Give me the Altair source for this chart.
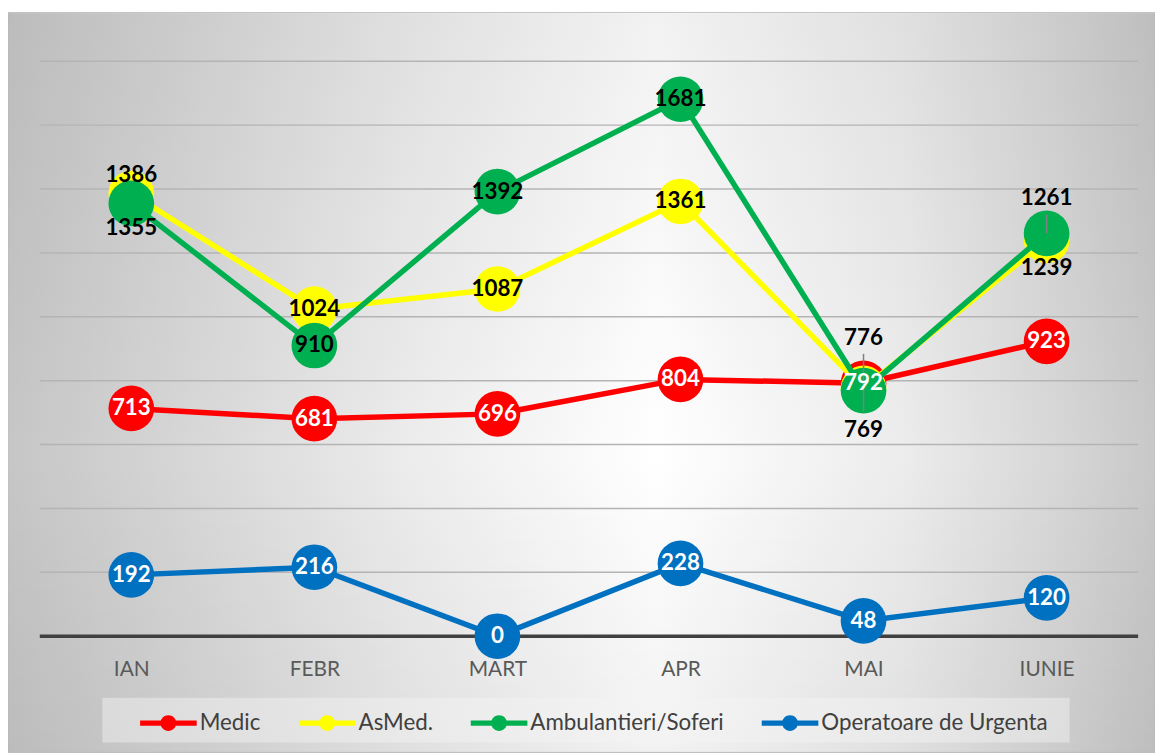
import json
import altair as alt
import pandas as pd

# ---------------- data ----------------
months = ["IAN", "FEBR", "MART", "APR", "MAI", "IUNIE"]
series_names = ["Medic", "AsMed.", "Ambulantieri/Soferi", "Operatoare de Urgenta"]
medic = [713, 681, 696, 804, 792, 923]
asmed = [1386, 1024, 1087, 1361, 776, 1239]
ambulantieri = [1355, 910, 1392, 1681, 769, 1261]
operatoare = [192, 216, 0, 228, 48, 120]
grid_values = [200, 400, 600, 800, 1000, 1200, 1400, 1600, 1800]
baseline_values = [0]

series_colors = ["#FF0000", "#FFFF00", "#00B050", "#0070C0"]
white_label_series = ["Medic", "Operatoare de Urgenta"]

rows = []
for name, vals in zip(series_names, [medic, asmed, ambulantieri, operatoare]):
    for m, v in zip(months, vals):
        rows.append({"month": m, "value": v, "series": name, "key": name + "|" + m})
df = pd.DataFrame(rows)

# label offsets (pixels) for labels placed above / below their marker
label_dy = {
    "AsMed.|IAN": -19,
    "Ambulantieri/Soferi|IAN": 25,
    "AsMed.|MAI": -51,
    "Ambulantieri/Soferi|MAI": 40,
    "Ambulantieri/Soferi|IUNIE": -36,
    "AsMed.|IUNIE": 28,
}

W, H = 1106, 579

x_enc = alt.X(
    "month:N",
    sort=months,
    scale=alt.Scale(type="point", padding=0.5, domain=months),
    axis=alt.Axis(
        title=None, domain=False, ticks=False, grid=False, labelAngle=0,
        labelFont="Lato", labelFontSize=21, labelColor="#595959",
        labelPadding=23, zindex=1,
    ),
)
y_scale = alt.Scale(domain=[0, 1800], nice=False, zero=True)
y_enc = alt.Y("value:Q", scale=y_scale, axis=None)

one = pd.DataFrame({"a": [0]})

h_gradient = alt.LinearGradient(
    gradient="linear", x1=0, y1=0, x2=1, y2=0,
    stops=[
        alt.GradientStop(offset=0.0, color="#c6c6c6"),
        alt.GradientStop(offset=0.15, color="#d6d6d6"),
        alt.GradientStop(offset=0.35, color="#ececec"),
        alt.GradientStop(offset=0.565, color="#ffffff"),
        alt.GradientStop(offset=0.78, color="#ececec"),
        alt.GradientStop(offset=0.92, color="#d6d6d6"),
        alt.GradientStop(offset=1.0, color="#c8c8c8"),
    ],
)
v_gradient = alt.LinearGradient(
    gradient="linear", x1=0, y1=0, x2=0, y2=1,
    stops=[
        alt.GradientStop(offset=0.0, color="rgba(0,0,0,0.05)"),
        alt.GradientStop(offset=0.6, color="rgba(0,0,0,0)"),
        alt.GradientStop(offset=1.0, color="rgba(0,0,0,0.05)"),
    ],
)

background = alt.Chart(one).mark_rect(
    fill=h_gradient, stroke="#bfbfbf", strokeWidth=1
).encode(
    x=alt.value(-32), x2=alt.value(W + 17), y=alt.value(-49), y2=alt.value(H + 117)
)
background_shade = alt.Chart(one).mark_rect(fill=v_gradient).encode(
    x=alt.value(-32), x2=alt.value(W + 17), y=alt.value(-48), y2=alt.value(H + 117)
)

legend_box = alt.Chart(one).mark_rect(fill="#f4f4f4", opacity=0.45).encode(
    x=alt.value(63), x2=alt.value(1037), y=alt.value(641), y2=alt.value(686)
)

grid = alt.Chart(pd.DataFrame({"g": grid_values})).mark_rule(
    color="#b4b4b4", strokeWidth=1.5
).encode(y=alt.Y("g:Q", scale=y_scale, axis=None))

base = alt.Chart(pd.DataFrame({"b": baseline_values})).mark_rule(
    color="#404040", strokeWidth=3.5
).encode(y=alt.Y("b:Q", scale=y_scale, axis=None))

color_scale = alt.Scale(domain=series_names, range=series_colors)

LEGEND_SYMBOL = (
    "M-1,-0.09H1V0.09H-1Z "
    "M0.28,0A0.28,0.28 0 1,1 -0.28,0A0.28,0.28 0 1,1 0.28,0Z"
)
legend = alt.Legend(
    title=None, orient="none", legendX=101, legendY=638,
    direction="horizontal", columns=4,
    symbolType=LEGEND_SYMBOL, symbolSize=3249, symbolStrokeWidth=0,
    symbolOpacity=1,
    labelFont="Lato", labelFontSize=22.5, labelColor="#404040",
    labelOffset=3, columnPadding=38, padding=0, labelLimit=400,
)

layers = [background, background_shade, legend_box, grid, base]

for name, col in zip(series_names, series_colors):
    sub = alt.Chart(df).transform_filter(alt.datum.series == name)
    layers.append(
        sub.mark_line(strokeWidth=5.5, color=col).encode(x=x_enc, y=y_enc)
    )
    layers.append(
        sub.mark_point(filled=True, opacity=1, size=2116, strokeWidth=0).encode(
            x=x_enc, y=y_enc,
            color=alt.Color("series:N", scale=color_scale, legend=legend),
        )
    )

# leader lines
leader = alt.Chart(df)
layers.append(
    leader.transform_filter(alt.datum.key == "Ambulantieri/Soferi|MAI")
    .mark_rule(color="#808080", strokeWidth=1.5, yOffset=-37, y2Offset=21)
    .encode(x=x_enc, y=y_enc, y2=alt.Y2("value:Q"))
)
layers.append(
    leader.transform_filter(alt.datum.key == "Ambulantieri/Soferi|IUNIE")
    .mark_rule(color="#808080", strokeWidth=1.5, yOffset=-19, y2Offset=0)
    .encode(x=x_enc, y=y_enc, y2=alt.Y2("value:Q"))
)

offset_keys = json.dumps(list(label_dy.keys()))
white_list = json.dumps(white_label_series)
text_props = dict(font="Lato", fontWeight="bold", fontSize=22.5,
                  baseline="middle", align="center")

layers.append(
    alt.Chart(df)
    .transform_filter(f"indexof({offset_keys}, datum.key) < 0 && indexof({white_list}, datum.series) < 0")
    .mark_text(color="#000000", **text_props)
    .encode(x=x_enc, y=y_enc, text=alt.Text("value:Q"))
)
layers.append(
    alt.Chart(df)
    .transform_filter(f"indexof({offset_keys}, datum.key) < 0 && indexof({white_list}, datum.series) >= 0")
    .mark_text(color="#ffffff", **text_props)
    .encode(x=x_enc, y=y_enc, text=alt.Text("value:Q"))
)
for k, dy in label_dy.items():
    layers.append(
        alt.Chart(df)
        .transform_filter(alt.datum.key == k)
        .mark_text(color="#000000", dy=dy, **text_props)
        .encode(x=x_enc, y=y_enc, text=alt.Text("value:Q"))
    )

chart = (
    alt.layer(*layers)
    .properties(
        width=W, height=H,
        padding={"left": 32, "top": 51, "right": 17, "bottom": 117},
        autosize=alt.AutoSizeParams(type="none"),
        background="#ffffff",
    )
    .configure_view(stroke=None)
)

chart.save("out.html", embed_options={"renderer": "svg", "actions": False})
